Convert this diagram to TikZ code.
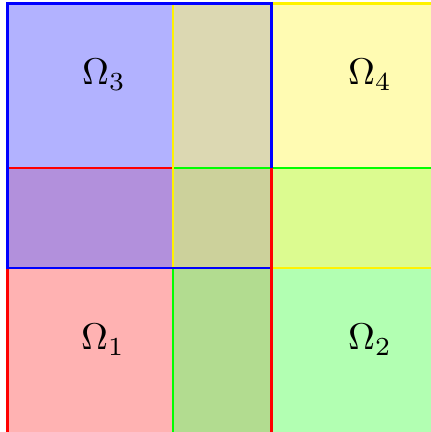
\documentclass[tikz,border=0pt]{standalone}
\usepackage{amsmath,amssymb}
\usepackage{xcolor}
\usepackage{tikz}
\usetikzlibrary{positioning}
\tikzset{
  patchfill/.style={fill opacity=0.55},
  patchline/.style={line width=0.55pt},
  patchlabel/.style={inner sep=0pt, font=\normalsize}
}
\begin{document}
\begin{tikzpicture}[x=0.2687pt, y=-0.2687pt]
  \useasboundingbox (0,0) rectangle (431,432);
  \clip (0,0) rectangle (431,432);

  % overlapping subdomains
  \fill[red!55, patchfill] (7.5,168) rectangle (271.5,436);
  \fill[green!55, patchfill] (173,168) rectangle (440,436);
  \fill[blue!55, patchfill] (7.5,3.5) rectangle (271.5,268);
  \fill[yellow!55, patchfill] (173,3.5) rectangle (440,268);

  % borders
  \draw[red, patchline] (7.5,168) rectangle (271.5,436);
  \draw[green, patchline] (173,168) rectangle (440,436);
  \draw[yellow, patchline] (173,3.5) rectangle (440,268);
  \draw[blue, patchline] (7.5,3.5) rectangle (271.5,268);
  \draw[red, patchline] (271.5,168) -- (271.5,436);

  \node[patchlabel] (omega3) at (104,75) {$\Omega_3$};
  \node[patchlabel] (omega4) at (370,75) {$\Omega_4$};
  \node[patchlabel] (omega1) at (103,340) {$\Omega_1$};
  \node[patchlabel] (omega2) at (370,340) {$\Omega_2$};
\end{tikzpicture}
\end{document}
